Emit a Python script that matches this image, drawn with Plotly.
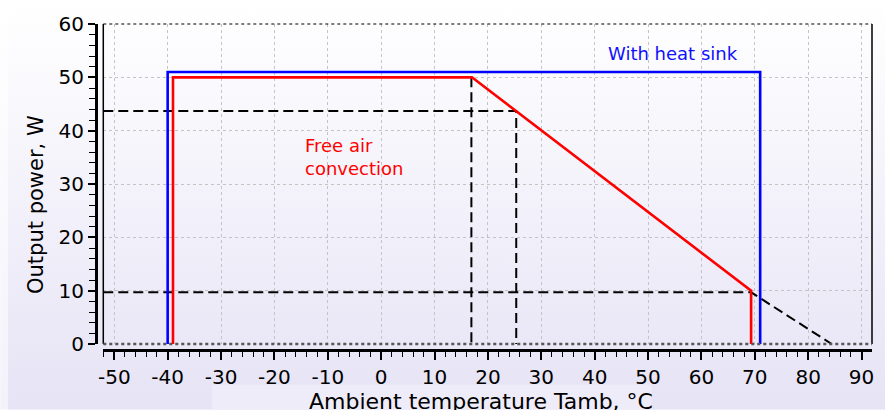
import base64
import plotly.graph_objects as go

# ---------------- data ----------------
heat_sink_x = [-40, -40, 71, 71]
heat_sink_y = [0, 51, 51, 0]

free_air_x = [-39, -39, 17, 69.3, 69.3]
free_air_y = [0, 50, 50, 10, 0]

x_range = [-52.06, 91.95]
y_range = [0, 60]

guide_a_x = [x_range[0], 25.3, 25.3]
guide_a_y = [43.7, 43.7, 0]
guide_b_x = [16.9, 16.9]
guide_b_y = [50, 0]
guide_c_x = [x_range[0], 69.3, 84.4]
guide_c_y = [9.7, 9.7, 0]

x_ticks = list(range(-50, 91, 10))
y_ticks = list(range(0, 61, 10))

FONT = "DejaVu Sans"
W, H = 886, 410
ML, MR, MT, MB = 96, 13, 22, 60
PW, PH = W - ML - MR, H - MT - MB

# ---------------- background gradient ----------------
svg = (
    f"<svg xmlns='http://www.w3.org/2000/svg' width='{W}' height='{H}' preserveAspectRatio='none'>"
    "<defs>"
    "<linearGradient id='g' x1='0' y1='0' x2='0' y2='1'>"
    "<stop offset='0' stop-color='#ffffff'/><stop offset='1' stop-color='#e6e3f5'/>"
    "</linearGradient>"
    "<linearGradient id='s' x1='0' y1='0' x2='0' y2='1'>"
    "<stop offset='0' stop-color='#ffffff'/><stop offset='1' stop-color='#f3f2fb'/>"
    "</linearGradient>"
    "</defs>"
    f"<rect width='{W}' height='{H}' fill='url(#s)'/>"
    f"<rect x='8' y='0' width='{W - 8}' height='{H}' fill='url(#g)'/>"
    "<rect x='212' y='385' width='440' height='25' fill='#eeecf9'/>"
    "</svg>"
)
bg_uri = "data:image/svg+xml;base64," + base64.b64encode(svg.encode()).decode()

fig = go.Figure()

dash_line = dict(color="black", width=2, dash="10px,5px")
for gx, gy in [(guide_a_x, guide_a_y), (guide_b_x, guide_b_y), (guide_c_x, guide_c_y)]:
    fig.add_trace(go.Scatter(x=gx, y=gy, mode="lines", line=dash_line,
                             hoverinfo="skip", showlegend=False))

fig.add_trace(go.Scatter(x=free_air_x, y=free_air_y, mode="lines",
                         line=dict(color="#ff0000", width=2.6), showlegend=False))
fig.add_trace(go.Scatter(x=heat_sink_x, y=heat_sink_y, mode="lines",
                         line=dict(color="#0000ff", width=2.6), showlegend=False))

tickfont = dict(family=FONT, size=20, color="black")

fig.update_layout(
    width=W, height=H,
    margin=dict(l=ML, r=MR, t=MT, b=MB, pad=0),
    paper_bgcolor="white",
    plot_bgcolor="rgba(0,0,0,0)",
    showlegend=False,
    font=dict(family=FONT),
    images=[dict(source=bg_uri, xref="paper", yref="paper",
                 x=-ML / PW, y=1 + MT / PH, sizex=W / PW, sizey=H / PH,
                 xanchor="left", yanchor="top", sizing="stretch", layer="below")],
    xaxis=dict(
        range=x_range, domain=[7.3 / PW, 1], anchor="free", position=0,
        tickvals=x_ticks, ticktext=[str(v) for v in x_ticks], tickfont=tickfont,
        showline=True, linecolor="black", linewidth=3,
        ticks="outside", ticklen=8, tickwidth=1.5, tickcolor="black",
        showgrid=True, gridcolor="#c4c4c4", gridwidth=1, griddash="dot",
        zeroline=False,
        minor=dict(tick0=0, dtick=2, ticks="outside", ticklen=5, tickwidth=1,
                   tickcolor="black", showgrid=False),
    ),
    yaxis=dict(
        range=y_range, domain=[6 / PH, 1], anchor="free", position=0,
        tickvals=y_ticks, ticktext=[str(v) for v in y_ticks], tickfont=tickfont,
        showline=True, linecolor="black", linewidth=3,
        ticks="outside", ticklen=7, tickwidth=1.5, tickcolor="black",
        showgrid=True, gridcolor="#c4c4c4", gridwidth=1, griddash="dot",
        zeroline=False,
        minor=dict(tick0=0, dtick=2, ticks="outside", ticklen=6, tickwidth=1,
                   tickcolor="black", showgrid=False),
    ),
    shapes=[
        dict(type="line", xref="x domain", yref="y domain", x0=0, x1=0, y0=0, y1=1,
             line=dict(color="black", width=1.5)),
        dict(type="line", xref="x domain", yref="y domain", x0=1, x1=1, y0=0, y1=1,
             line=dict(color="black", width=1.5)),
        dict(type="line", xref="x domain", yref="y domain", x0=0, x1=1, y0=1, y1=1,
             line=dict(color="black", width=1.2, dash="dot")),
        dict(type="line", xref="x domain", yref="y domain", x0=0, x1=1, y0=0, y1=0,
             line=dict(color="#555555", width=2.5, dash="dot")),
    ],
    annotations=[
        dict(text="With heat sink", x=54.75, y=54.5, xref="x", yref="y",
             showarrow=False, font=dict(family=FONT, size=18, color="#1010ff")),
        dict(text="Free air<br>convection", x=-14.6, y=35.1, xref="x", yref="y",
             xanchor="left", align="left", showarrow=False,
             font=dict(family=FONT, size=18, color="#ff0000")),
        dict(text="Ambient temperature Tamb, °C", xref="paper", yref="paper",
             x=(481 - ML) / PW, y=0, xanchor="center", yanchor="top", yshift=-37,
             showarrow=False, font=dict(family=FONT, size=22, color="black")),
        dict(text="Output power, W", xref="paper", yref="paper",
             x=(36 - ML) / PW, y=(H - MB - 204) / PH, xanchor="center", yanchor="middle",
             textangle=-90, showarrow=False, font=dict(family=FONT, size=21, color="black")),
    ],
)

fig.write_html("out.html", config={"displayModeBar": False},
               post_script="document.body.style.margin='0px';document.body.style.overflow='hidden';")
